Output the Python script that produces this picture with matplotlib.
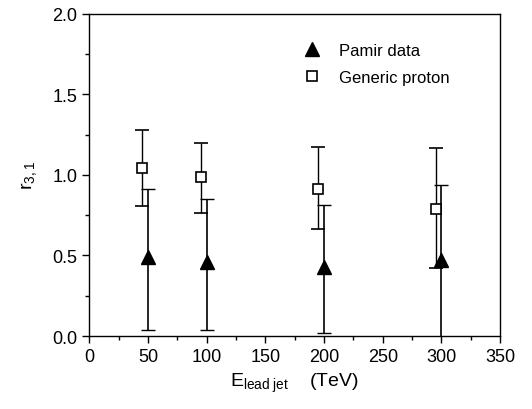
import matplotlib
matplotlib.use("Agg")
import matplotlib.pyplot as plt
from matplotlib.ticker import MultipleLocator
import numpy as np

plt.rcParams["font.family"] = ["Liberation Sans", "DejaVu Sans"]
plt.rcParams["mathtext.fontset"] = "custom"
plt.rcParams["mathtext.rm"] = "Liberation Sans"
plt.rcParams["mathtext.it"] = "Liberation Sans:italic"

# Pamir data (triangles)
pamir_x = [50, 100, 200, 300]
pamir_y = [0.49, 0.46, 0.43, 0.47]
pamir_hi = [0.91, 0.85, 0.815, 0.94]
pamir_lo = [0.04, 0.035, 0.02, -0.06]

# Generic proton (open squares)
proton_x = [45, 95, 195, 295]
proton_y = [1.04, 0.985, 0.915, 0.79]
proton_hi = [1.28, 1.20, 1.175, 1.165]
proton_lo = [0.81, 0.765, 0.665, 0.42]

fig = plt.figure(figsize=(5.32, 4.10), dpi=100)
ax = fig.add_axes([0.168, 0.178, 0.772, 0.786])

p_err = [np.array(pamir_y) - np.array(pamir_lo), np.array(pamir_hi) - np.array(pamir_y)]
g_err = [np.array(proton_y) - np.array(proton_lo), np.array(proton_hi) - np.array(proton_y)]

ax.errorbar(proton_x, proton_y, yerr=g_err, fmt="s", color="black",
            mfc="white", mec="black", ms=6.5, mew=1.2, ecolor="black",
            elinewidth=1, capsize=5, capthick=1, label="Generic proton")
ax.errorbar(pamir_x, pamir_y, yerr=p_err, fmt="^", color="black",
            ms=10, ecolor="black", elinewidth=1.2, capsize=5, capthick=1,
            label="Pamir data")

ax.set_xlim(0, 350)
ax.set_ylim(0, 2.0)
ax.xaxis.set_major_locator(MultipleLocator(50))
ax.xaxis.set_minor_locator(MultipleLocator(25))
ax.yaxis.set_major_locator(MultipleLocator(0.5))
ax.yaxis.set_minor_locator(MultipleLocator(0.25))
ax.yaxis.set_major_formatter(plt.FormatStrFormatter("%.1f"))
ax.tick_params(which="major", direction="out", length=5, width=1, labelsize=13)
ax.tick_params(which="minor", direction="out", length=3, width=1)
for s in ax.spines.values():
    s.set_linewidth(1)

ax.set_xlabel(r"$\mathregular{E_{lead\ jet}}$    (TeV)", fontsize=14, labelpad=4)
ax.set_ylabel(r"$\mathregular{r_{3,1}}$", fontsize=14, labelpad=10)

handles, labels = ax.get_legend_handles_labels()
handles = [h[0] for h in handles[::-1]]
leg = ax.legend(handles, labels[::-1], loc="upper left", bbox_to_anchor=(0.485, 0.955),
                frameon=False, fontsize=12, handletextpad=1.15, labelspacing=0.68,
                handlelength=1.0)

fig.savefig("out.png", dpi=100)
